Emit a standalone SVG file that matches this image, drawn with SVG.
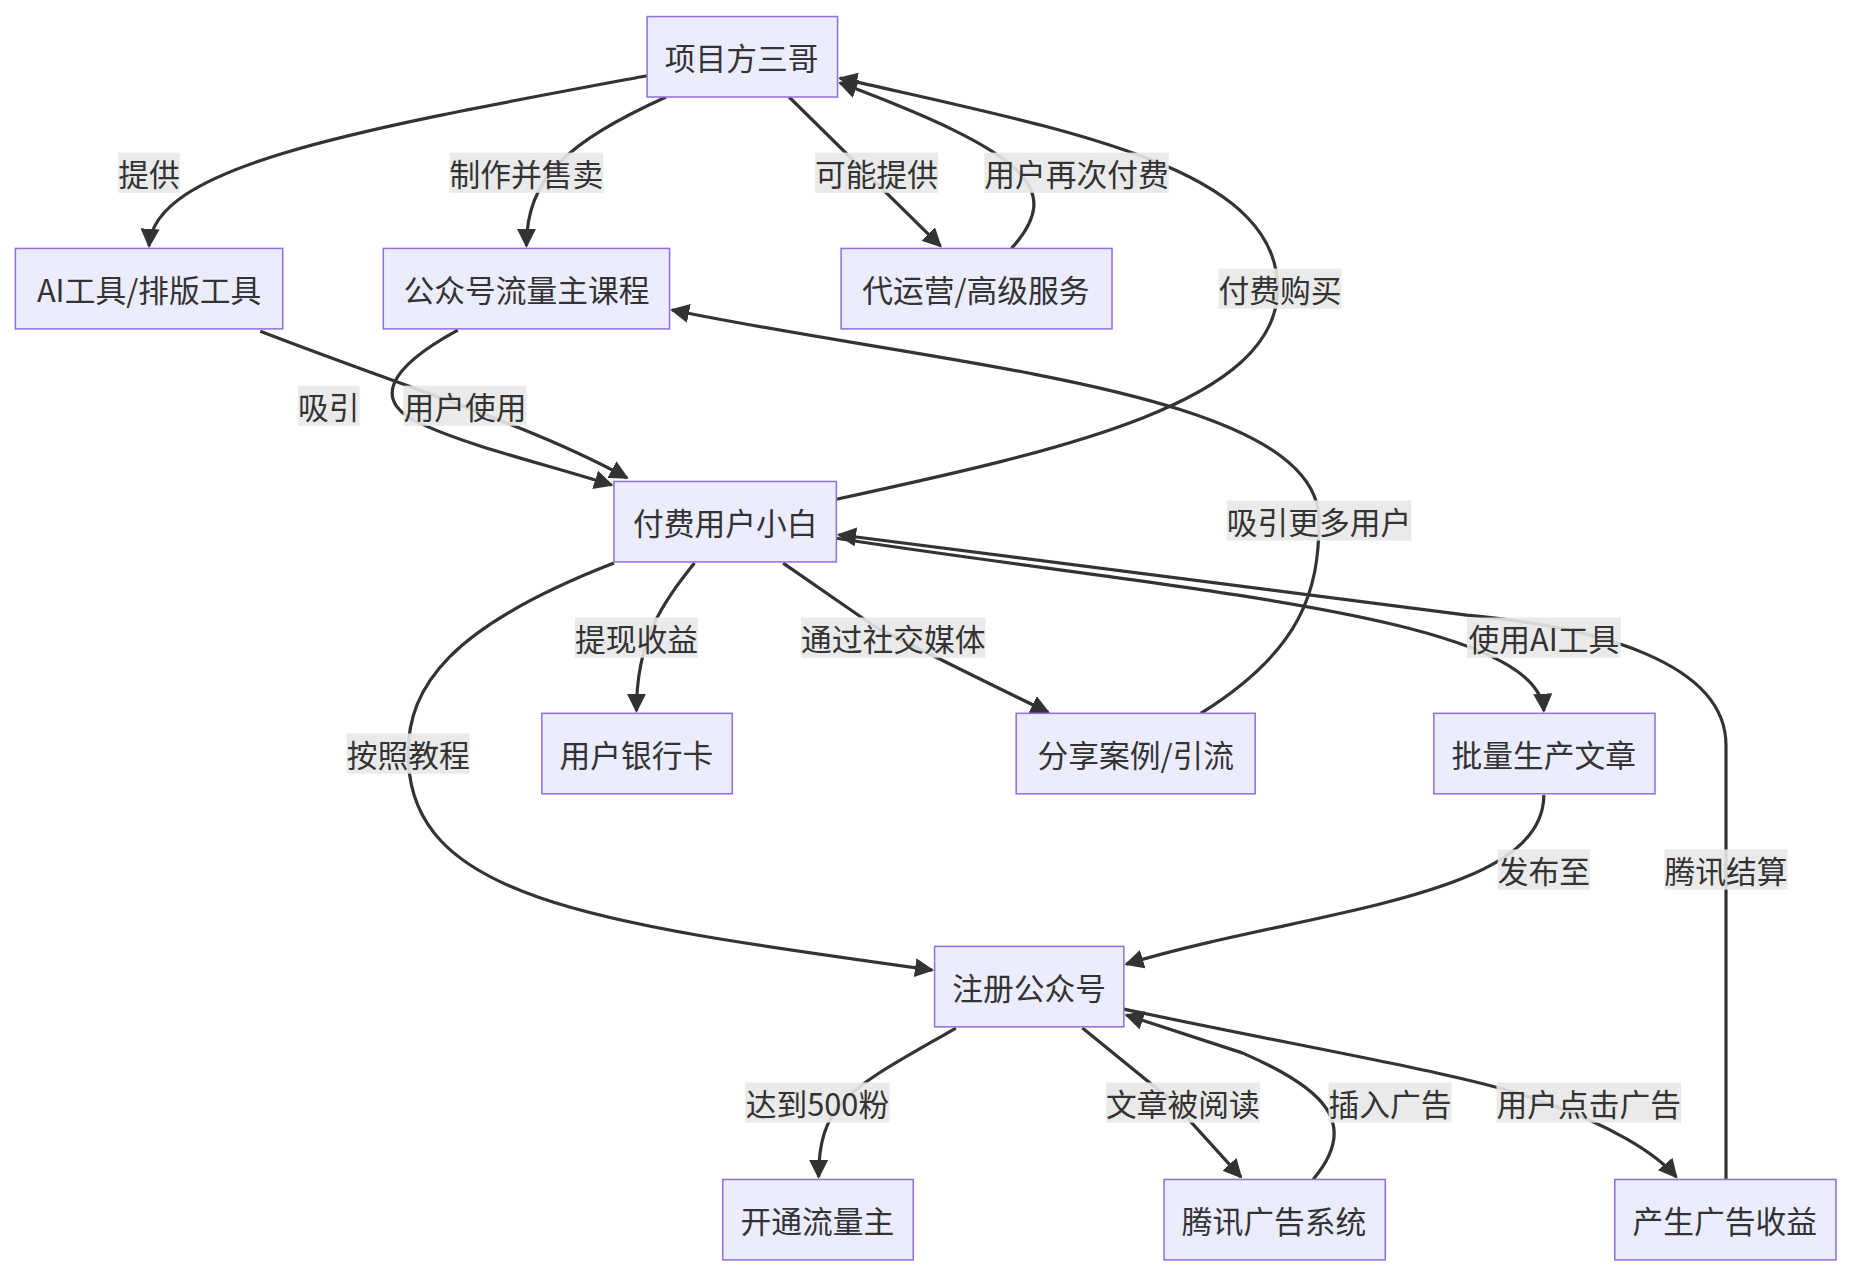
<svg xmlns="http://www.w3.org/2000/svg" width="1852" height="1276" viewBox="0 0 1852 1276">
<style>
.n rect{fill:#ECECFF;stroke:#9370DB;stroke-width:1.3}
text{font-family:"Noto Sans CJK SC","Liberation Sans",sans-serif;font-size:26px;fill:#333;text-anchor:middle;dominant-baseline:central}
.e path{fill:none;stroke:#333;stroke-width:2.7;marker-end:url(#a)}
.l rect{fill:#e8e8e8;opacity:0.9}
</style>
<defs><marker id="a" viewBox="0 0 10 10" refX="9" refY="5" markerWidth="6" markerHeight="6" orient="auto"><path d="M0,0L10,5L0,10z" fill="#333"/></marker></defs>
<rect width="1852" height="1276" fill="#fff"/>
<g transform="scale(1.183)">
<g class="e">
<path d="M547,64C300,110 130,140 126,208"/>
<path d="M563,82C480,120 445,150 445,208"/>
<path d="M667,82L795,208"/>
<path d="M855,210C900,160 870,130 710,70"/>
<path d="M707,422C900,380 1080,340 1080,244C1080,140 900,110 710,66"/>
<path d="M220,280C350,330 450,360 530,404"/>
<path d="M387,279C330,310 310,340 360,360C400,378 460,392 517,410"/>
<path d="M1015,603C1100,550 1115,500 1115,440C1115,330 800,310 568,262"/>
<path d="M587,476C560,510 538,540 538,601"/>
<path d="M662,476L740,530C800,560 840,580 886,602"/>
<path d="M707,455C1000,500 1300,520 1305,601"/>
<path d="M1459,997L1459,630C1459,560 1350,530 1240,520L709,452"/>
<path d="M519,476C380,530 345,580 345,637C345,760 500,780 788,820"/>
<path d="M1305,672C1305,760 1100,770 952,815"/>
<path d="M808,869C720,920 692,930 692,995"/>
<path d="M915,869L990,930L1049,995"/>
<path d="M1110,997C1150,950 1120,920 1050,890L952,858"/>
<path d="M950,853C1100,885 1250,910 1300,930C1360,950 1400,975 1417,995"/>
</g>
<g class="l">
<rect x="100" y="129" width="52" height="34"/><text x="126" y="146">提供</text>
<rect x="380" y="129" width="130" height="34"/><text x="445" y="146">制作并售卖</text>
<rect x="689" y="129" width="104" height="34"/><text x="741" y="146">可能提供</text>
<rect x="832" y="129" width="156" height="34"/><text x="910" y="146">用户再次付费</text>
<rect x="1030" y="227" width="104" height="34"/><text x="1082" y="244">付费购买</text>
<rect x="252" y="326" width="52" height="34"/><text x="278" y="343">吸引</text>
<rect x="341" y="326" width="104" height="34"/><text x="393" y="343">用户使用</text>
<rect x="1037" y="423" width="156" height="34"/><text x="1115" y="440">吸引更多用户</text>
<rect x="486" y="522" width="104" height="34"/><text x="538" y="539">提现收益</text>
<rect x="677" y="522" width="156" height="34"/><text x="755" y="539">通过社交媒体</text>
<rect x="1240" y="522" width="130" height="34"/><text x="1305" y="539">使用AI工具</text>
<rect x="1407" y="718" width="104" height="34"/><text x="1459" y="735">腾讯结算</text>
<rect x="293" y="620" width="104" height="34"/><text x="345" y="637">按照教程</text>
<rect x="1266" y="718" width="78" height="34"/><text x="1305" y="735">发布至</text>
<rect x="630" y="915" width="122" height="34"/><text x="691" y="932">达到500粉</text>
<rect x="935" y="915" width="130" height="34"/><text x="1000" y="932">文章被阅读</text>
<rect x="1123" y="915" width="104" height="34"/><text x="1175" y="932">插入广告</text>
<rect x="1265" y="915" width="156" height="34"/><text x="1343" y="932">用户点击广告</text>
</g>
<g id="n1" class="n"><rect x="547" y="14" width="161" height="68"/><text x="627" y="48">项目方三哥</text></g>
<g id="n2" class="n"><rect x="13" y="210" width="226" height="68"/><text x="126" y="244">AI工具/排版工具</text></g>
<g id="n3" class="n"><rect x="324" y="210" width="242" height="68"/><text x="445" y="244">公众号流量主课程</text></g>
<g id="n4" class="n"><rect x="711" y="210" width="229" height="68"/><text x="825" y="244">代运营/高级服务</text></g>
<g id="n5" class="n"><rect x="519" y="407" width="188" height="68"/><text x="613" y="441">付费用户小白</text></g>
<g id="n6" class="n"><rect x="458" y="603" width="161" height="68"/><text x="538" y="637">用户银行卡</text></g>
<g id="n7" class="n"><rect x="859" y="603" width="202" height="68"/><text x="960" y="637">分享案例/引流</text></g>
<g id="n8" class="n"><rect x="1212" y="603" width="187" height="68"/><text x="1305" y="637">批量生产文章</text></g>
<g id="n9" class="n"><rect x="790" y="800" width="160" height="68"/><text x="870" y="834">注册公众号</text></g>
<g id="n10" class="n"><rect x="611" y="997" width="161" height="68"/><text x="691" y="1031">开通流量主</text></g>
<g id="n11" class="n"><rect x="984" y="997" width="187" height="68"/><text x="1077" y="1031">腾讯广告系统</text></g>
<g id="n12" class="n"><rect x="1365" y="997" width="187" height="68"/><text x="1458" y="1031">产生广告收益</text></g>
</g>
</svg>
